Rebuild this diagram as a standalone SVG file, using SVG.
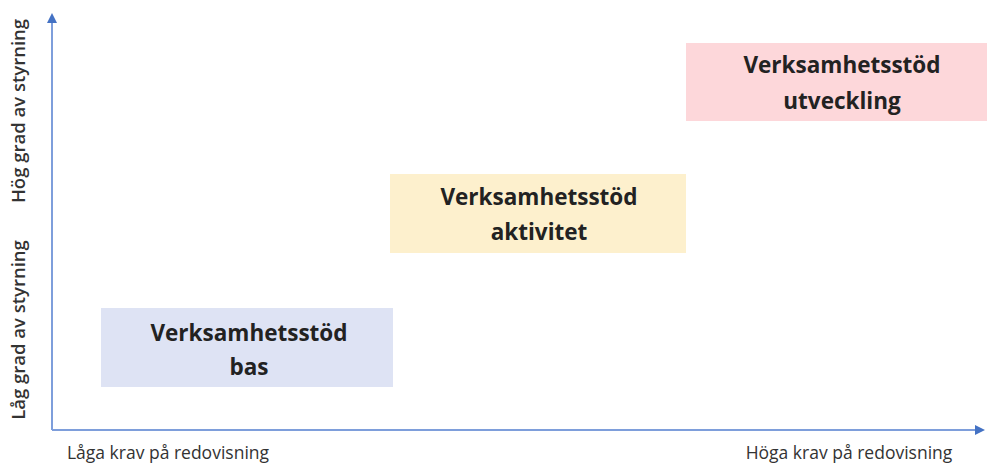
<svg xmlns="http://www.w3.org/2000/svg" width="987" height="464" viewBox="0 0 987 464">
<style>
.box{stroke:none}
.t{font-family:"Open Sans","Liberation Sans",sans-serif;font-weight:bold;font-size:22.5px;fill:#222;text-anchor:middle}
.ax{font-family:"Open Sans","Liberation Sans",sans-serif;font-size:17.5px;fill:#333;text-anchor:middle}
.ay{font-family:"Open Sans","Liberation Sans",sans-serif;font-size:18.5px;fill:#333;text-anchor:middle;font-weight:600}
.axis{stroke:#7e9edb;stroke-width:2;fill:none}
</style>
<defs>
<marker id="arr" viewBox="0 0 10 10" refX="5" refY="5" markerWidth="5" markerHeight="5" orient="auto" markerUnits="strokeWidth">
<path d="M0,0 L10,5 L0,10 z" fill="#4472c4"/>
</marker>
</defs>
<rect width="987" height="464" fill="#ffffff"/>
<g id="connectors">
<path class="axis" d="M52,430 L52,18" marker-end="url(#arr)"/>
<path class="axis" d="M52,430 L980,430" marker-end="url(#arr)"/>
</g>
<g id="labels">
<text class="ay" transform="translate(25,111) rotate(-90)">Hög grad av styrning</text>
<text class="ay" transform="translate(25,330) rotate(-90)">Låg grad av styrning</text>
<text class="ax" x="168" y="459">Låga krav på redovisning</text>
<text class="ax" x="849" y="459">Höga krav på redovisning</text>
</g>
<g id="bas">
<rect class="box" x="101" y="308" width="292" height="79" fill="#dee3f4"/>
<text class="t" x="249" y="341">Verksamhetsstöd</text>
<text class="t" x="249" y="375">bas</text>
</g>
<g id="aktivitet">
<rect class="box" x="390" y="174" width="296" height="79" fill="#fdf0cd"/>
<text class="t" x="539" y="205">Verksamhetsstöd</text>
<text class="t" x="539" y="240">aktivitet</text>
</g>
<g id="utveckling">
<rect class="box" x="686" y="43" width="301" height="78" fill="#fdd7da"/>
<text class="t" x="842" y="73">Verksamhetsstöd</text>
<text class="t" x="842" y="109">utveckling</text>
</g>
</svg>
